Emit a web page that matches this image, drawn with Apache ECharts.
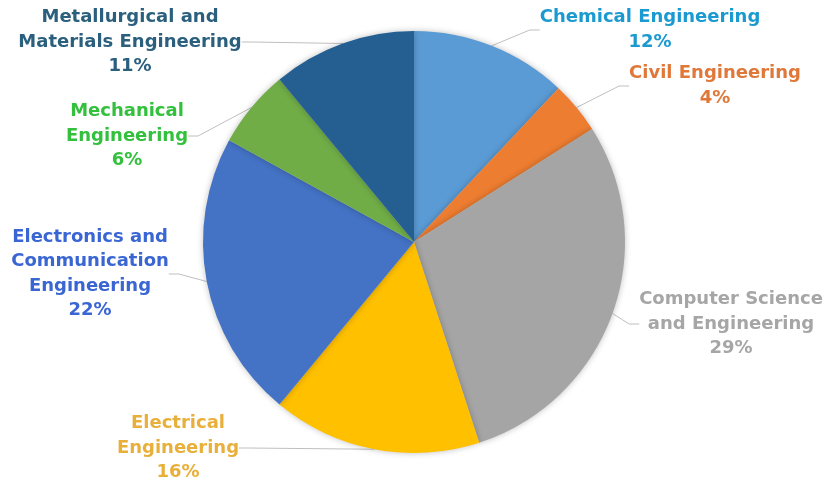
<!DOCTYPE html>
<html><head><meta charset="utf-8">
<script src="https://cdn.jsdelivr.net/npm/echarts@6/dist/echarts.min.js"></script>
<style>html,body{margin:0;padding:0;background:#fff}#c{width:829px;height:486px}</style>
</head><body><div id="c"></div>
<script>
const categories = ["Chemical Engineering","Civil Engineering","Computer Science\nand Engineering","Electrical\nEngineering","Electronics and\nCommunication\nEngineering","Mechanical\nEngineering","Metallurgical and\nMaterials Engineering"];
const values = [12, 4, 29, 16, 22, 6, 11];
const sliceColors = ["#5B9BD5","#ED7D31","#A5A5A5","#FFC000","#4472C4","#70AD47","#255E91"];
const labelColors = ["#1A9AD0","#E0783A","#A6A6A6","#E8B03A","#3A66D4","#33C03C","#2B5F7E"];
// label anchor (center of text block) positions
const labelPos = [[650,30],[715,86],[731,324],[178,448],[90,274],[127,136],[130,42]];

const chart = echarts.init(document.getElementById('c'));
chart.setOption({
  animation:false,
  series:[{
    type:'pie',
    center:[414,242],
    radius:211,
    startAngle:90,
    clockwise:true,
    bleedMargin:0,
    data: categories.map((n,i)=>({name:n,value:values[i],
      itemStyle:{color:sliceColors[i]},
      label:{color:labelColors[i]}})),
    itemStyle:{shadowBlur:6,shadowColor:'rgba(0,0,0,0.25)'},
    label:{show:true,position:'outside',formatter:'{b}\n{d}%',overflow:'none',
      fontFamily:'DejaVu Sans',fontWeight:'bold',fontSize:18,lineHeight:24.5,align:'center'},
    labelLine:{show:true,length:15,length2:10,lineStyle:{color:'#BFBFBF',width:1}},
    labelLayout: function(p){
      const pos = labelPos[p.dataIndex];
      return {x:pos[0], y:pos[1], align:'center', verticalAlign:'middle'};
    }
  }]
});
</script></body></html>
